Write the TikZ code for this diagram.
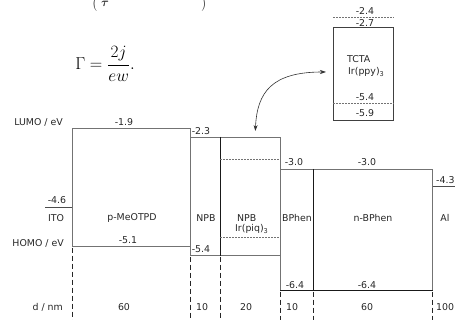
\documentclass[tikz,border=0pt]{standalone}
\usepackage{fontspec}
\usepackage{amsmath}
\setsansfont{DejaVu Sans}
\usetikzlibrary{arrows.meta}
\begin{document}
\begin{tikzpicture}[x=1pt,y=-1pt,
  lbl/.style={font=\sffamily\fontsize{9.4}{11}\selectfont, text=black!85, inner sep=0pt},
  box/.style={draw=black!55, line width=0.7pt, rectangle, inner sep=0pt, anchor=north west},
  dk/.style={draw=black!90, line width=1.2pt},
  lev/.style={draw=black!70, line width=0.9pt},
  vdash/.style={draw=black!85, line width=0.9pt, dash pattern=on 5pt off 3pt},
  fdash/.style={draw=black!55, line width=0.6pt, dash pattern=on 1.5pt off 1.5pt},
  eq/.style={font=\fontsize{19}{22}\selectfont, inner sep=0pt},
  eqs/.style={font=\fontsize{13}{15}\selectfont, inner sep=0pt, anchor=base, text=black!80}]
\useasboundingbox (0,0) rectangle (455,320);
\clip (0,0) rectangle (455,320);
% formula pieces
\node[eqs] (lp) at (94.5,7) {$\bigl($};
\node[eqs] (tau) at (105,7) {$\boldsymbol{\tau}$};
\node[eqs] (rp) at (204,7) {$\bigr)$};
\node[eq] (gam) at (105,64) {$\Gamma=\dfrac{2j}{ew}.$};
% boxes
\node[box, minimum width=118pt, minimum height=118pt] (pmeo) at (72,128) {};
\node[box, minimum width=30pt, minimum height=118pt] (npb) at (190,137) {};
\node[box, minimum width=60pt, minimum height=118pt] (npbir) at (220,137) {};
\node[box, minimum width=33pt, minimum height=121pt] (bphen) at (280,169) {};
\node[box, minimum width=119pt, minimum height=121pt] (nbphen) at (313,169) {};
\node[box, draw=black!75, line width=0.9pt, minimum width=60pt, minimum height=93pt] (tcta) at (333,27) {};
% darker edges
\draw[dk] (npb.north east) -- (npb.south east);
\draw[dk] (bphen.north east) -- (bphen.south east);
\draw[dk] (bphen.south west) -- (nbphen.south east);
% levels
\coordinate (ito0) at (45,207);
\coordinate (al1) at (455,186);
\draw[lev] (ito0) -- (pmeo.west |- ito0);
\draw[lev] (nbphen.east |- al1) -- (al1);
\draw[fdash] (npbir.west |- 0,159) -- (npbir.east |- 0,159);
\draw[fdash] (npbir.west |- 0,237) -- (npbir.east |- 0,237);
\draw[fdash] (tcta.west |- 0,17) -- (tcta.east |- 0,17);
\draw[fdash] (tcta.west |- 0,103) -- (tcta.east |- 0,103);
% vertical dashed lines
\foreach \n/\a in {pmeo/south west, npb/south west, npb/south east, bphen/south west, bphen/south east, nbphen/south east}{
  \draw[vdash] ([yshift=-1pt]\n.\a) -- ([yshift=-1pt]\n.\a |- 0,320);
}
% arrow
\draw[line width=0.6pt, black!80, {Stealth[length=6pt,width=4pt]}-{Stealth[length=6pt,width=4pt]}]
  ([xshift=5pt,yshift=6pt]npbir.north) .. controls (257,92) and (272,72) .. ([xshift=-7pt]tcta.west |- 0,72);
% axis labels
\node[lbl, anchor=east] (lumo) at (63,122) {LUMO / eV};
\node[lbl, anchor=east] (homo) at (64,243) {HOMO / eV};
\node[lbl, anchor=east] (dnm) at (63,307) {d / nm};
% values
\node[lbl] (v1) at (124,122) {-1.9};
\node[lbl] (v2) at (128,240) {-5.1};
\node[lbl] (v3) at (57,200) {-4.6};
\node[lbl] (v4) at (201,131) {-2.3};
\node[lbl] (v5) at (201,249) {-5.4};
\node[lbl] (v6) at (294,162) {-3.0};
\node[lbl] (v7) at (367,162) {-3.0};
\node[lbl, anchor=west] (v8) at (436,180) {-4.3};
\node[lbl] (v9) at (295,285) {-6.4};
\node[lbl] (v10) at (367,285) {-6.4};
\node[lbl] (t1) at (365,11) {-2.4};
\node[lbl] (t2) at (365,23) {-2.7};
\node[lbl] (t3) at (365,97) {-5.4};
\node[lbl] (t4) at (365,113) {-5.9};
% material names
\node[lbl] (ito) at (56,218) {ITO};
\node[lbl] (m1) at (132,218) {p-MeOTPD};
\node[lbl] (m2) at (206,218) {NPB};
\node[lbl, anchor=west] (m3) at (237,218) {NPB};
\node[lbl, anchor=west] (m3b) at (235,229) {Ir(piq)\textsubscript{3}};
\node[lbl] (m4) at (297,218) {BPhen};
\node[lbl] (m5) at (373,218) {n-BPhen};
\node[lbl] (m6) at (445,218) {Al};
\node[lbl, anchor=west] (m7) at (347,59) {TCTA};
\node[lbl, anchor=west] (m8) at (348,72) {Ir(ppy)\textsubscript{3}};
% thicknesses
\node[lbl] (d1) at (124,307) {60};
\node[lbl] (d2) at (202,307) {10};
\node[lbl] (d3) at (246,307) {20};
\node[lbl] (d4) at (292,307) {10};
\node[lbl] (d5) at (367,307) {60};
\node[lbl, anchor=west] (d6) at (436,307) {100};
\end{tikzpicture}
\end{document}
